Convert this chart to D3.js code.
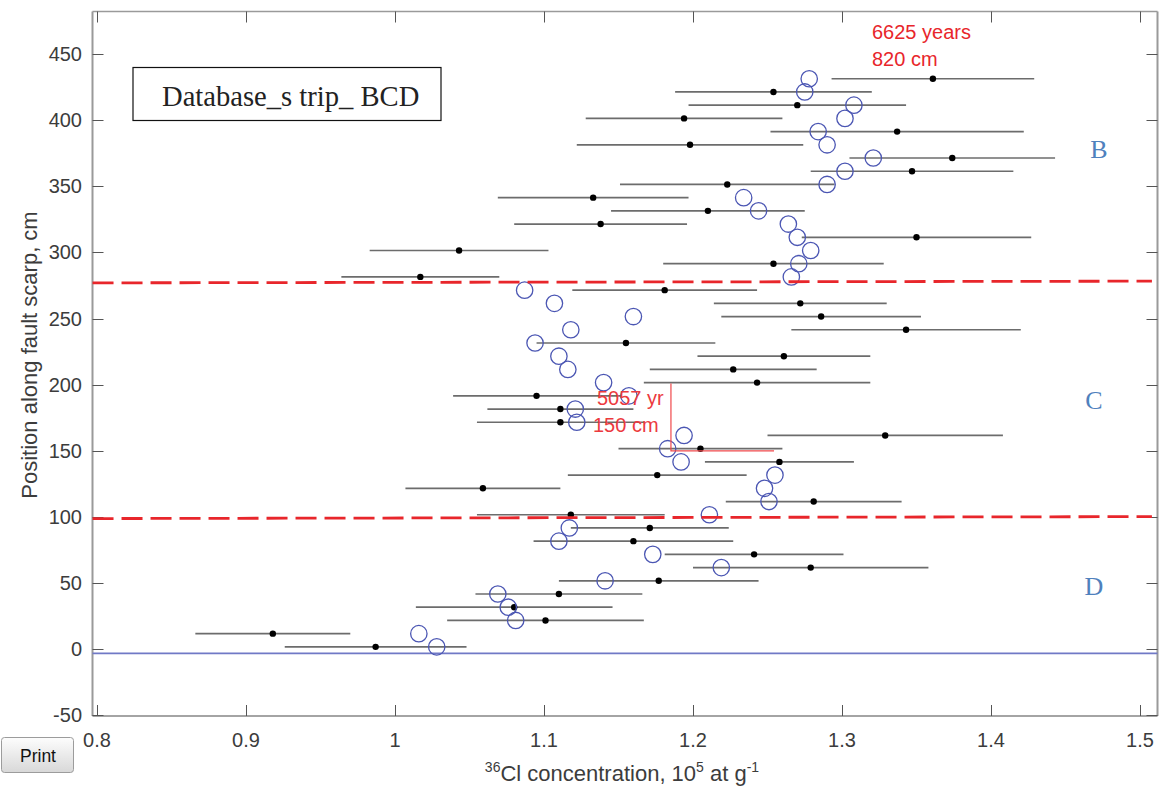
<!DOCTYPE html>
<html>
<head>
<meta charset="utf-8">
<script src="https://cdn.jsdelivr.net/npm/d3@7"></script>
<style>
  html, body { margin: 0; padding: 0; background: #fff; }
  svg { display: block; }
</style>
</head>
<body>
<svg id="chart" width="1167" height="787"></svg>
<script>
// ---------------- data ----------------
const positions = [431.5, 421.5, 411.5, 401.5, 391.5, 381.5, 371.5, 361.5, 351.5, 341.5,
  331.5, 321.5, 311.5, 301.5, 291.5, 281.5, 271.5, 261.5, 251.5, 241.5,
  231.5, 221.5, 211.5, 201.5, 191.5, 181.5, 171.5, 161.5, 151.5, 141.5,
  131.5, 121.5, 111.5, 101.5, 91.5, 81.5, 71.5, 61.5, 51.5, 41.5,
  31.5, 21.5, 11.5, 1.5];
const modelCl = [1.278, 1.275, 1.308, 1.302, 1.284, 1.290, 1.321, 1.302, 1.290, 1.234,
  1.244, 1.264, 1.270, 1.279, 1.271, 1.266, 1.087, 1.107, 1.160, 1.118,
  1.094, 1.110, 1.116, 1.140, 1.157, 1.121, 1.122, 1.194, 1.183, 1.192,
  1.255, 1.248, 1.251, 1.211, 1.117, 1.110, 1.173, 1.219, 1.141, 1.069,
  1.076, 1.081, 1.016, 1.028];
const measuredCl = [1.361, 1.254, 1.270, 1.194, 1.337, 1.198, 1.374, 1.347, 1.223, 1.133,
  1.210, 1.138, 1.350, 1.043, 1.254, 1.017, 1.181, 1.272, 1.286, 1.343,
  1.155, 1.261, 1.227, 1.243, 1.095, 1.111, 1.111, 1.329, 1.205, 1.258,
  1.176, 1.059, 1.281, 1.118, 1.171, 1.160, 1.241, 1.279, 1.177, 1.110,
  1.080, 1.101, 0.918, 0.987];
const errorCl = [0.068, 0.066, 0.073, 0.066, 0.085, 0.076, 0.069, 0.068, 0.072, 0.064,
  0.065, 0.058, 0.077, 0.060, 0.074, 0.053, 0.062, 0.058, 0.067, 0.077,
  0.060, 0.058, 0.056, 0.076, 0.056, 0.049, 0.056, 0.079, 0.055, 0.050,
  0.060, 0.052, 0.059, 0.063, 0.053, 0.067, 0.060, 0.079, 0.067, 0.056,
  0.066, 0.066, 0.052, 0.061];
const xTicks = [0.8, 0.9, 1.0, 1.1, 1.2, 1.3, 1.4, 1.5];
const xTickLabels = ["0.8", "0.9", "1", "1.1", "1.2", "1.3", "1.4", "1.5"];
const yTicks = [-50, 0, 50, 100, 150, 200, 250, 300, 350, 400, 450];
const yTickLabels = ["-50", "0", "50", "100", "150", "200", "250", "300", "350", "400", "450"];
// unit boundaries (dashed red), drawn end to end across the axes
const boundaryUpper = [[0.797, 277.0], [1.508, 278.3]];
const boundaryLower = [[0.797, 98.6], [1.508, 100.1]];
const surfaceLevel = -3.4;
// offset annotation (L-shaped marker)
const offsetMarker = [[1.1852, 200.8], [1.1852, 149.8], [1.2544, 149.8]];
const unitLabels = [
  { name: "B", x: 1.4725, y: 371.5 },
  { name: "C", x: 1.4690, y: 181.5 },
  { name: "D", x: 1.4690, y: 40.5 }
];

// ---------------- layout ----------------
const svg = d3.select("#chart");
const box = { left: 92.5, right: 1157.5, top: 11.5, bottom: 716 };
const x = d3.scaleLinear().domain([0.8, 1.5]).range([97, 1140]);
const y = d3.scaleLinear().domain([-50, 450]).range([714.9, 54.3]);
const tickFont = "'Liberation Sans', Arial, sans-serif";

// box frame
svg.append("line").attr("x1", box.left).attr("x2", box.left).attr("y1", box.top).attr("y2", box.bottom)
  .attr("stroke", "#9a9a9a").attr("stroke-width", 2);
svg.append("line").attr("x1", box.right).attr("x2", box.right).attr("y1", box.top).attr("y2", box.bottom)
  .attr("stroke", "#9a9a9a").attr("stroke-width", 2);
svg.append("line").attr("x1", box.left).attr("x2", box.right).attr("y1", box.top).attr("y2", box.top)
  .attr("stroke", "#9a9a9a").attr("stroke-width", 1.5);
svg.append("line").attr("x1", box.left).attr("x2", box.right).attr("y1", box.bottom).attr("y2", box.bottom)
  .attr("stroke", "#4a4a4a").attr("stroke-width", 1.2);

const tickLen = 11;
// x ticks (bottom & top, inward)
const xt = svg.append("g");
xTicks.forEach((t, i) => {
  const px = Math.round(x(t)) + 0.5;
  xt.append("line").attr("x1", px).attr("x2", px).attr("y1", box.bottom).attr("y2", box.bottom - tickLen)
    .attr("stroke", "#555").attr("stroke-width", 1);
  xt.append("line").attr("x1", px).attr("x2", px).attr("y1", box.top).attr("y2", box.top + tickLen)
    .attr("stroke", "#555").attr("stroke-width", 1);
  xt.append("text").attr("x", x(t)).attr("y", 747).attr("text-anchor", "middle")
    .attr("font-family", tickFont).attr("font-size", 20).attr("fill", "#3c3c3c").text(xTickLabels[i]);
});
// y ticks (left & right, inward)
const yt = svg.append("g");
yTicks.forEach((t, i) => {
  const py = Math.round(y(t)) + 0.5;
  yt.append("line").attr("x1", box.left).attr("x2", box.left + tickLen).attr("y1", py).attr("y2", py)
    .attr("stroke", "#555").attr("stroke-width", 1);
  yt.append("line").attr("x1", box.right).attr("x2", box.right - tickLen).attr("y1", py).attr("y2", py)
    .attr("stroke", "#555").attr("stroke-width", 1);
  yt.append("text").attr("x", 82).attr("y", y(t) + 7).attr("text-anchor", "end")
    .attr("font-family", tickFont).attr("font-size", 20).attr("fill", "#3c3c3c").text(yTickLabels[i]);
});

// axis labels
svg.append("text").attr("transform", "translate(37,355) rotate(-90)").attr("text-anchor", "middle")
  .attr("font-family", tickFont).attr("font-size", 22).attr("fill", "#3c3c3c")
  .text("Position along fault scarp, cm");
const xl = svg.append("text").attr("x", 622).attr("y", 781).attr("text-anchor", "middle")
  .attr("font-family", tickFont).attr("font-size", 22).attr("fill", "#3c3c3c");
xl.append("tspan").attr("font-size", 14).attr("dy", -9).text("36");
xl.append("tspan").attr("dy", 9).text("Cl concentration, 10");
xl.append("tspan").attr("font-size", 14).attr("dy", -9).text("5");
xl.append("tspan").attr("dy", 9).text(" at g");
xl.append("tspan").attr("font-size", 14).attr("dy", -9).text("-1");

// surface line
svg.append("line").attr("x1", box.left).attr("x2", box.right)
  .attr("y1", y(surfaceLevel)).attr("y2", y(surfaceLevel))
  .attr("stroke", "#7079c6").attr("stroke-width", 1.6);

// error bars
const rows = positions.map((p, i) => ({ p, m: modelCl[i], c: measuredCl[i], e: errorCl[i] }));
svg.append("g").selectAll("line").data(rows).join("line")
  .attr("x1", d => x(d.c - d.e)).attr("x2", d => x(d.c + d.e))
  .attr("y1", d => y(d.p)).attr("y2", d => y(d.p))
  .attr("stroke", "#6c6c6c").attr("stroke-width", 1.7);
svg.append("g").selectAll("circle").data(rows).join("circle")
  .attr("cx", d => x(d.c)).attr("cy", d => y(d.p)).attr("r", 3.2).attr("fill", "#000");

// model circles
svg.append("g").selectAll("circle").data(rows).join("circle")
  .attr("cx", d => x(d.m)).attr("cy", d => y(d.p)).attr("r", 8.2)
  .attr("fill", "none").attr("stroke", "#4b56b3").attr("stroke-width", 1.3);

// dashed boundaries
const ln = d3.line().x(d => x(d[0])).y(d => y(d[1]));
[boundaryUpper, boundaryLower].forEach(b => {
  svg.append("path").attr("d", ln(b)).attr("fill", "none")
    .attr("stroke", "#e8262b").attr("stroke-width", 2.8).attr("stroke-dasharray", "21,8");
});

// offset marker
svg.append("path").attr("d", ln(offsetMarker)).attr("fill", "none")
  .attr("stroke", "#f0494c").attr("stroke-width", 1.2);

// annotations
const redFont = "'Liberation Sans', Arial, sans-serif";
[["6625 years", 872, 39], ["820 cm", 872, 65.5]].forEach(a => {
  svg.append("text").attr("x", a[1]).attr("y", a[2]).attr("font-family", redFont)
    .attr("font-size", 20).attr("fill", "#e8262b").text(a[0]);
});
[["5057 yr", 597, 405], ["150 cm", 593, 431.5]].forEach(a => {
  svg.append("text").attr("x", a[1]).attr("y", a[2]).attr("font-family", redFont)
    .attr("font-size", 20).attr("fill", "#ec3a3e").text(a[0]);
});

unitLabels.forEach(u => {
  svg.append("text").attr("x", x(u.x)).attr("y", y(u.y)).attr("text-anchor", "middle")
    .attr("font-family", "'Liberation Serif', 'Times New Roman', serif")
    .attr("font-size", 26).attr("fill", "#4f81bd").text(u.name);
});

// title box
svg.append("rect").attr("x", 133).attr("y", 67.5).attr("width", 308).attr("height", 53)
  .attr("fill", "#fff").attr("stroke", "#111").attr("stroke-width", 1.2);
svg.append("text").attr("x", 162).attr("y", 106).attr("font-family", "'Liberation Serif', 'Times New Roman', serif")
  .attr("font-size", 28.6).attr("fill", "#222").text("Database_s trip_ BCD");

// print button
const defs = svg.append("defs");
const grad = defs.append("linearGradient").attr("id", "btn").attr("x1", 0).attr("x2", 0).attr("y1", 0).attr("y2", 1);
grad.append("stop").attr("offset", "0%").attr("stop-color", "#fdfdfd");
grad.append("stop").attr("offset", "100%").attr("stop-color", "#d8d8d8");
svg.append("rect").attr("x", 1.5).attr("y", 737.5).attr("width", 72).attr("height", 35).attr("rx", 3)
  .attr("fill", "url(#btn)").attr("stroke", "#9c9c9c").attr("stroke-width", 1);
svg.append("text").attr("x", 38).attr("y", 762).attr("text-anchor", "middle")
  .attr("font-family", tickFont).attr("font-size", 17.5).attr("fill", "#111").text("Print");
</script>
</body>
</html>
